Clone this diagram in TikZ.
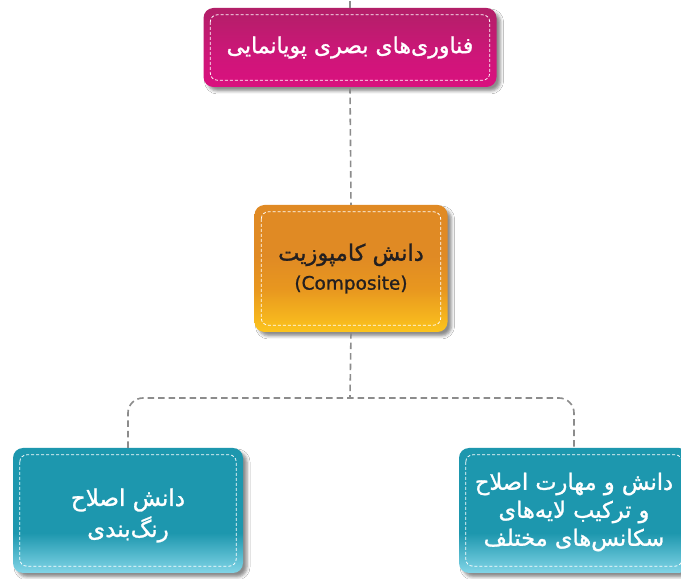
\documentclass[tikz,border=0pt]{standalone}
\usepackage{fontspec}
\newfontfamily\fa[Script=Arabic,FakeBold=1.2]{DejaVu Sans}
\usetikzlibrary{shadows.blur}
\TeXXeTstate=1
\definecolor{magT}{HTML}{B21F68}
\definecolor{magM}{HTML}{CE1679}
\definecolor{magB}{HTML}{DA107F}
\definecolor{orT}{HTML}{E08A24}
\definecolor{orM}{HTML}{E8971F}
\definecolor{orB}{HTML}{FCC41D}
\definecolor{tealT}{HTML}{1D97AE}
\definecolor{tealB}{HTML}{82D5E7}
\definecolor{conncol}{HTML}{8C8C8C}
\definecolor{darktext}{HTML}{231F20}
\pgfdeclareverticalshading{magsh}{100bp}{color(0bp)=(magB); color(25bp)=(magB); color(45bp)=(magM); color(75bp)=(magT); color(100bp)=(magT)}
\pgfdeclareverticalshading{orsh}{100bp}{color(0bp)=(orB); color(25bp)=(orB); color(42bp)=(orM); color(55bp)=(orT); color(100bp)=(orT)}
\pgfdeclareverticalshading{tealsh}{100bp}{color(0bp)=(tealB); color(25bp)=(tealB); color(41bp)=(tealT); color(100bp)=(tealT)}
\tikzset{
  box/.style={rounded corners=10pt, inner sep=0pt, align=center,
    blur shadow={shadow xshift=4pt, shadow yshift=-4pt, shadow blur radius=3pt, shadow opacity=45}},
  innerdash/.style={draw=white, dash pattern=on 3pt off 2pt, line width=0.8pt, rounded corners=7pt},
  conn/.style={draw=conncol, line width=1.6pt, dash pattern=on 6.5pt off 4pt},
  whitetext/.style={text=white},
  txt/.style={inner sep=0pt, align=center},
}
\begin{document}
\begin{tikzpicture}[x=1pt,y=1pt]
\clip (0,0) rectangle (681,579);
\fill[white] (0,0) rectangle (681,579);
\coordinate (topend) at (350,579);
\coordinate (j) at (350,181);
\node[box, shading=magsh, minimum width=293pt, minimum height=79pt, whitetext, font=\fa\fontsize{22}{30}\selectfont] (t) at (350,531.5) {\beginR فناوری‌های بصری پویانمایی\endR};
\node[box, shading=orsh, minimum width=193pt, minimum height=127pt, text=darktext, font=\fa\fontsize{22.5}{29}\selectfont] (m) at (351,310.5) {\beginR دانش کامپوزیت\endR\\{\fontsize{18.5}{29}\selectfont (Composite)}};
\node[box, shading=tealsh, minimum width=230pt, minimum height=125pt] (bl) at (128,68.5) {};
\node[box, shading=tealsh, minimum width=230pt, minimum height=125pt] (br) at (574,68.5) {};
\node[txt, whitetext, font=\fa\fontsize{23}{31}\selectfont] (bltext) at ([yshift=-5pt]bl.center) {\beginR دانش اصلاح\endR\\\beginR رنگ‌بندی\endR};
\node[txt, whitetext, font=\fa\fontsize{22.5}{28}\selectfont] (brtext) at ([yshift=-1.5pt]br.center) {\beginR دانش و مهارت اصلاح\endR\\\beginR و ترکیب لایه‌های\endR\\\beginR سکانس‌های مختلف\endR};
\foreach \n in {t,m,bl,br}{
  \draw[innerdash] ([xshift=7pt,yshift=-7pt]\n.north west) rectangle ([xshift=-7pt,yshift=7pt]\n.south east);
}
\draw[conn] (t.north) -- (topend);
\draw[conn] (t.south) -- (m.north);
\draw[conn] (m.south) -- (j);
\draw[conn, rounded corners=15pt] (bl.north) |- (j) -| (br.north);
\end{tikzpicture}
\end{document}
